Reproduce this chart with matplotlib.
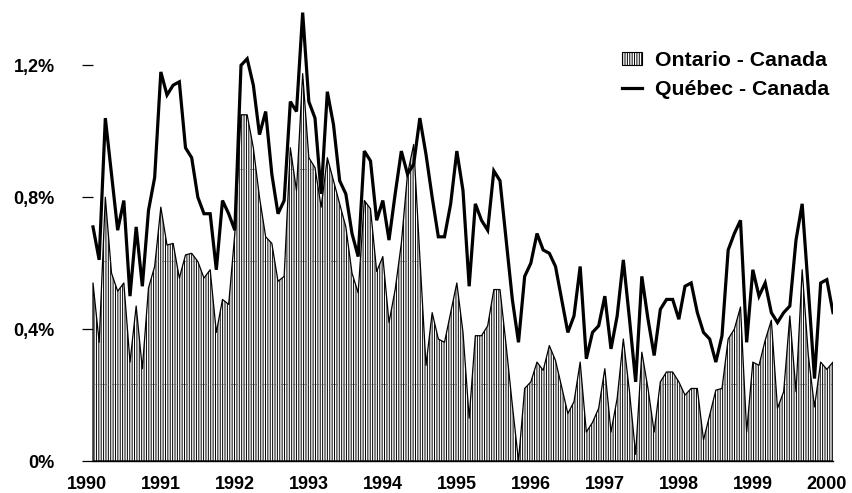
import numpy as np
import matplotlib
matplotlib.use("Agg")
import matplotlib.pyplot as plt
from matplotlib.patches import Patch
from matplotlib.lines import Line2D

#*************** DATA (monthly, 1990 -> early 2000) ******************#
ontario = [0.54, 0.36, 0.80, 0.57, 0.515, 0.54, 0.30, 0.47, 0.28, 0.525,
           0.59, 0.77, 0.655, 0.66, 0.555, 0.625, 0.63, 0.605, 0.555, 0.58,
           0.39, 0.49, 0.475, 0.69, 1.05, 1.05, 0.95, 0.80, 0.68, 0.66,
           0.545, 0.56, 0.95, 0.82, 1.175, 0.92, 0.89, 0.77, 0.92, 0.85,
           0.78, 0.71, 0.57, 0.51, 0.79, 0.765, 0.575, 0.62, 0.42, 0.52,
           0.66, 0.87, 0.96, 0.62, 0.29, 0.45, 0.37, 0.36, 0.45, 0.54,
           0.39, 0.13, 0.38, 0.38, 0.41, 0.52, 0.52, 0.35, 0.17, 0.0,
           0.22, 0.24, 0.30, 0.275, 0.35, 0.305, 0.225, 0.144, 0.18, 0.30,
           0.088, 0.117, 0.16, 0.28, 0.088, 0.19, 0.37, 0.21, 0.02, 0.33,
           0.22, 0.088, 0.24, 0.27, 0.27, 0.24, 0.20, 0.22, 0.22, 0.064,
           0.139, 0.215, 0.22, 0.37, 0.40, 0.467, 0.088, 0.30, 0.29, 0.366,
           0.427, 0.16, 0.21, 0.44, 0.21, 0.58, 0.32, 0.164, 0.30, 0.278,
           0.30]

quebec = [0.71, 0.61, 1.04, 0.87, 0.70, 0.79, 0.50, 0.71, 0.53, 0.76,
          0.86, 1.18, 1.11, 1.14, 1.15, 0.95, 0.92, 0.80, 0.75, 0.75,
          0.58, 0.79, 0.75, 0.70, 1.20, 1.22, 1.14, 0.99, 1.06, 0.87,
          0.75, 0.79, 1.09, 1.06, 1.36, 1.09, 1.04, 0.81, 1.12, 1.02,
          0.85, 0.81, 0.69, 0.62, 0.94, 0.91, 0.73, 0.79, 0.67, 0.81,
          0.94, 0.87, 0.90, 1.04, 0.93, 0.80, 0.68, 0.68, 0.78, 0.94,
          0.82, 0.53, 0.78, 0.73, 0.70, 0.88, 0.85, 0.67, 0.49, 0.36,
          0.56, 0.60, 0.69, 0.64, 0.63, 0.59, 0.49, 0.39, 0.44, 0.59,
          0.31, 0.39, 0.41, 0.50, 0.34, 0.44, 0.61, 0.43, 0.24, 0.56,
          0.43, 0.32, 0.46, 0.49, 0.49, 0.43, 0.53, 0.54, 0.45, 0.39,
          0.37, 0.30, 0.38, 0.64, 0.69, 0.73, 0.36, 0.58, 0.50, 0.54,
          0.45, 0.42, 0.45, 0.47, 0.67, 0.78, 0.52, 0.25, 0.54, 0.55,
          0.45]

years = ['1990', '1991', '1992', '1993', '1994', '1995',
         '1996', '1997', '1998', '1999', '2000']
ytick_vals = [0, 0.4, 0.8, 1.2]
ytick_labels = ['0%', '0,4%', '0,8%', '1,2%']
labels = ['Ontario - Canada', 'Québec - Canada']

#*************** STYLE ******************#
plt.rcParams['font.family'] = ['Liberation Sans', 'DejaVu Sans']
plt.rcParams['font.weight'] = 'bold'
plt.rcParams['hatch.linewidth'] = 0.7
HATCH = '|' * 7

W, H = 852, 493
n = len(ontario)
step = 740 / (n - 1)          # pixels per month
fig = plt.figure(figsize=(W / 100, H / 100), dpi=100)
ax = fig.add_axes([(93 - step) / W, 32 / H, n * step / W, 455 / H])

x = np.arange(n)

# hatched area (Ontario)
poly = ax.fill_between(x, 0, ontario, facecolor='white', edgecolor='black',
                       hatch=HATCH, linewidth=0.9, zorder=2)

# faint tile seams visible inside the hatched area
clip = poly.get_paths()[0]
for yv, x0, x1 in [(0.233, 0, 120), (0.606, 0, 53), (0.885, 23, 39)]:
    ln, = ax.plot([x0, x1], [yv, yv], color='0.3', lw=0.6,
                  ls=(0, (1, 1.5)), zorder=3)
    ln.set_clip_path(clip, ax.transData)

# Québec line
ax.plot(x, quebec, color='black', lw=2.3, solid_joinstyle='miter', zorder=4)

#*************** AXES ******************#
ax.set_xlim(-1, n - 1)
ax.set_ylim(0, 1.38)
for s in ['top', 'right']:
    ax.spines[s].set_visible(False)
ax.spines['left'].set_position(('data', 0))
ax.spines['left'].set_visible(False)
ax.spines['bottom'].set_linewidth(1.0)
ax.spines['bottom'].set_bounds(0, n - 1)

ax.set_yticks(ytick_vals)
ax.set_yticklabels(ytick_labels, fontsize=13, fontweight='bold')
ax.tick_params(axis='y', length=8, width=0.9, pad=19.5)

ax.set_xticks(np.arange(len(years)) * 12 - 1)
ax.set_xticklabels(years, fontsize=13, fontweight='bold')
ax.tick_params(axis='x', length=0, pad=11)

#*************** LEGEND ******************#
handles = [Patch(facecolor='white', edgecolor='black', hatch=HATCH, linewidth=0.8),
           Line2D([0], [0], color='black', lw=2.3)]
leg = fig.legend(handles, labels, loc='upper left',
                 bbox_to_anchor=(622 / W, 1 - 51 / H), frameon=False,
                 prop={'family': ['Liberation Sans', 'DejaVu Sans'],
                       'weight': 'bold', 'size': 15.3},
                 handlelength=0.95, handleheight=0.55, handletextpad=0.6,
                 labelspacing=0.45, borderpad=0, borderaxespad=0)

fig.savefig('out.png', dpi=100)
